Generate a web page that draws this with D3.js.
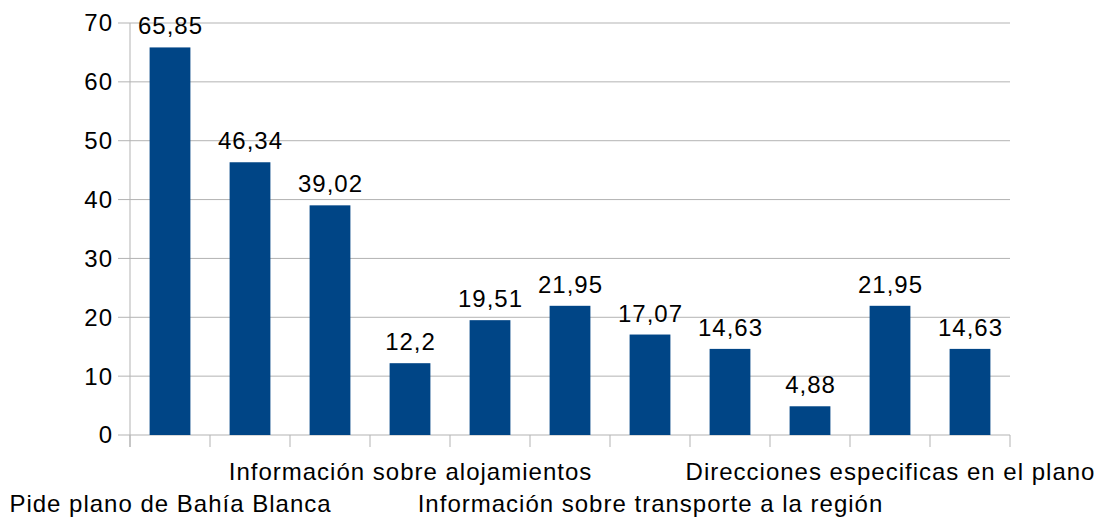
<!DOCTYPE html>
<html>
<head>
<meta charset="utf-8">
<script src="https://cdn.jsdelivr.net/npm/d3@7"></script>
<style>
  body { margin: 0; background: #fff; }
  text { font-family: "Liberation Sans", Arial, sans-serif; fill: #000; letter-spacing: 1px; }
</style>
</head>
<body>
<script>
// values; hidden category names are unknown
let categories = ["Pide plano de Bahía Blanca", "", "", "Información sobre alojamientos", "", "",
    "Información sobre transporte a la región", "", "", "Direcciones especificas en el plano", ""];
let values = [65.85, 46.34, 39.02, 12.2, 19.51, 21.95, 17.07, 14.63, 4.88, 21.95, 14.63];
let yTicks = [0, 10, 20, 30, 40, 50, 60, 70];

let width = 1098,
    height = 518,
    plotLeft = 130,
    plotRight = 1010,
    plotTop = 23,
    plotBottom = 435;

const svg = d3.select("body")
    .append("svg")
    .attr("width", width)
    .attr("height", height);

const xScale = d3.scaleBand()
    .domain(d3.range(values.length))
    .range([plotLeft, plotRight])
    .paddingInner(0.49)
    .paddingOuter(0.245);

const yScale = d3.scaleLinear()
    .domain([0, 70])
    .range([plotBottom, plotTop]);

// gridlines
svg.append("g")
    .selectAll("line")
    .data(yTicks)
    .enter()
    .append("line")
    .attr("x1", plotLeft - 12)
    .attr("x2", plotRight)
    .attr("y1", d => yScale(d))
    .attr("y2", d => yScale(d))
    .attr("stroke", "#b3b3b3")
    .attr("stroke-width", 1);

// y axis line
svg.append("line")
    .attr("x1", plotLeft).attr("x2", plotLeft)
    .attr("y1", yScale(70)).attr("y2", plotBottom + 12)
    .attr("stroke", "#b3b3b3");

// x ticks at band boundaries
const step = xScale.step();
svg.append("g")
    .selectAll("line")
    .data(d3.range(values.length + 1))
    .enter()
    .append("line")
    .attr("x1", i => plotLeft + i * step)
    .attr("x2", i => plotLeft + i * step)
    .attr("y1", plotBottom)
    .attr("y2", plotBottom + 12)
    .attr("stroke", "#b3b3b3");

// y tick labels
svg.append("g")
    .selectAll("text")
    .data(yTicks)
    .enter()
    .append("text")
    .attr("x", plotLeft - 17)
    .attr("y", d => yScale(d))
    .attr("dy", "0.35em")
    .attr("text-anchor", "end")
    .style("font-size", "24px")
    .text(d => d);

// bars
svg.selectAll("rect")
    .data(values)
    .enter()
    .append("rect")
    .attr("x", (d, i) => xScale(i))
    .attr("y", d => yScale(d))
    .attr("width", xScale.bandwidth())
    .attr("height", d => plotBottom - yScale(d))
    .attr("fill", "#004586");

// value labels
svg.append("g")
    .selectAll("text")
    .data(values)
    .enter()
    .append("text")
    .attr("x", (d, i) => xScale(i) + xScale.bandwidth() / 2 + 0.5)
    .attr("y", d => yScale(d) - 13)
    .attr("text-anchor", "middle")
    .style("font-size", "24px")
    .text(d => String(d).replace(".", ","));

// category labels, staggered in two rows
svg.append("g")
    .selectAll("text")
    .data(categories)
    .enter()
    .append("text")
    .attr("x", (d, i) => xScale(i) + xScale.bandwidth() / 2 + 0.5)
    .attr("y", (d, i) => i % 2 === 0 ? 512 : 480)
    .attr("text-anchor", "middle")
    .style("font-size", "24px")
    .text(d => d);
</script>
</body>
</html>
